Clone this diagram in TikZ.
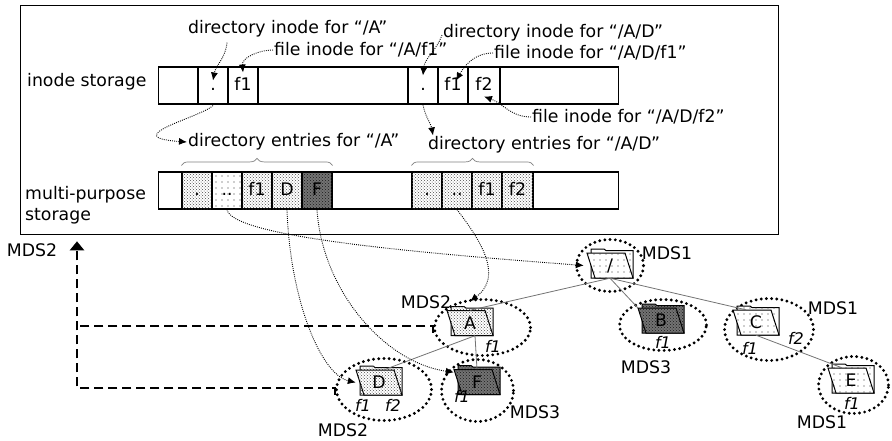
\documentclass[tikz,border=0pt]{standalone}
\usepackage{fontspec}
\setmainfont{DejaVu Sans}
\usetikzlibrary{arrows.meta,shapes,patterns,patterns.meta,decorations.pathreplacing}
\tikzstyle{store}=[draw,line width=1.2pt,minimum height=37pt,inner sep=0pt,anchor=west]
\tikzstyle{cell}=[draw,line width=1.2pt,minimum width=30pt,minimum height=37pt,inner sep=0pt,text height=12pt,text depth=3pt]
\tikzstyle{dense}=[fill=white,postaction={pattern=crosshatch dots,pattern color=black!70}]
\tikzstyle{sparse}=[fill=white,postaction={pattern={Dots[distance=6pt,radius=0.6pt]},pattern color=black!80}]
\tikzstyle{dark}=[fill=black!55,postaction={pattern=crosshatch dots,pattern color=black!90}]
\tikzstyle{note}=[inner sep=1pt,anchor=west]
\tikzstyle{ptr}=[draw,line width=0.9pt,dash pattern=on 0.9pt off 1.2pt,-{Latex[length=8pt,width=7pt]}]
\tikzstyle{ring}=[ellipse,draw,line width=3.2pt,dash pattern=on 0pt off 5.2pt,line cap=round,inner sep=0pt]
\tikzstyle{folder}=[minimum width=46pt,minimum height=25pt,inner sep=0pt]
\tikzstyle{branch}=[draw,black!55,line width=0.8pt]
\tikzstyle{leaf}=[inner sep=0pt,font=\fontsize{16}{18}\selectfont\itshape]
\tikzstyle{mds}=[inner sep=0pt]
\tikzstyle{migrate}=[draw,line width=2.4pt,dash pattern=on 9pt off 5pt]
\tikzstyle{entries}=[decorate,decoration={brace,amplitude=7pt},draw,gray,line width=0.7pt]
% folder icon: name, position, text, fill
\newcommand{\folder}[4]{%
  \begin{scope}[shift={#2}]
    \draw[line width=1pt,#4] (-19,-12.5) -- (-19,16.5) -- (-6,16.5) -- (-4,15) -- (23,15) -- (23,-12.5) -- cycle;
    \draw[line width=1pt,#4] (-23,12.5) -- (15,12.5) -- (23,-12.5) -- (-15,-12.5) -- cycle;
  \end{scope}
  \node[folder] (#1) at #2 {#3};}

\begin{document}
\begin{tikzpicture}[x=1pt,y=1pt,font=\fontsize{17.3}{21}\selectfont]
        \useasboundingbox (0,0) rectangle (892,-440);
        \node[draw,line width=1.3pt,minimum width=758pt,minimum height=229pt,anchor=north west,inner sep=0pt] (mdsbox) at (20,-5) {};
        % inode storage
        \node[note] (ilabel) at (26,-82) {inode storage};
        \node[store,minimum width=460pt] (istore) at (158,-85.5) {};
        \node[cell] (ia-dot) at (213,-85.5) {.};
        \node[cell] (ia-f1) at (243,-85.5) {f1};
        \node[cell] (id-dot) at (423,-85.5) {.};
        \node[cell] (id-f1) at (453,-85.5) {f1};
        \node[cell,minimum width=32pt] (id-f2) at (484,-85.5) {f2};
        % multi-purpose storage
        \node[note,align=left] (mlabel) at (24,-205) {multi-purpose\\storage};
        \node[store,minimum width=460pt] (mstore) at (158,-190.5) {};
        \node[cell,dense] (ma-dot) at (197,-190.5) {.};
        \node[cell,sparse] (ma-dd) at (227,-190.5) {..};
        \node[cell,dense] (ma-f1) at (257,-190.5) {f1};
        \node[cell,dense] (ma-D) at (287,-190.5) {D};
        \node[cell,dark] (ma-F) at (317,-190.5) {F};
        \node[cell,dense] (md-dot) at (427,-190.5) {.};
        \node[cell,dense] (md-dd) at (457,-190.5) {..};
        \node[cell,dense] (md-f1) at (487,-190.5) {f1};
        \node[cell,dense,minimum width=31pt] (md-f2) at (517.5,-190.5) {f2};
        \draw[entries] ([yshift=6pt]ma-dot.north west) -- ([yshift=6pt]ma-F.north east);
        \draw[entries] ([yshift=6pt]md-dot.north west) -- ([yshift=6pt]md-f2.north east);
        % notes
        \node[note] (dirA) at (187,-29) {directory inode for “/A”};
        \node[note] (fileAf1) at (273,-50) {file inode for “/A/f1”};
        \node[note] (dirAD) at (442,-33) {directory inode for “/A/D”};
        \node[note] (fileADf1) at (493,-53) {file inode for “/A/D/f1”};
        \node[note] (fileADf2) at (531,-117) {file inode for “/A/D/f2”};
        \node[note] (entA) at (187,-142) {directory entries for “/A”};
        \node[note] (entAD) at (427,-145) {directory entries for “/A/D”};
        % namespace tree
        \node[ring,minimum width=67pt,minimum height=52pt] (root-ring) at (610,-265.5) {};
        \node[ring,minimum width=96pt,minimum height=56pt] (A-ring) at (482.5,-327.5) {};
        \node[ring,minimum width=87pt,minimum height=51pt] (B-ring) at (663,-325) {};
        \node[ring,minimum width=89pt,minimum height=62pt] (C-ring) at (769,-329.5) {};
        \node[ring,minimum width=95pt,minimum height=62pt] (D-ring) at (384,-389.5) {};
        \node[ring,minimum width=70pt,minimum height=57pt] (E-ring) at (853.5,-385) {};
        \node[ring,minimum width=72pt,minimum height=62pt] (F-ring) at (477.5,-390.5) {};
        \folder{root}{(610,-265.5)}{/}{sparse}
        \folder{A}{(470,-323)}{A}{dense}
        \folder{B}{(661,-320.5)}{B}{dark}
        \folder{C}{(756,-322.5)}{C}{sparse}
        \folder{D}{(379,-382.5)}{D}{dense}
        \folder{E}{(851,-380.5)}{E}{sparse}
        \folder{F}{(477,-382)}{F}{dark}
        \draw[branch] (root.south) -- (A.north);
        \draw[branch] (root.south) -- (B.north west);
        \draw[branch] (root.south) -- ([xshift=-10pt]C.north);
        \draw[branch] (C.south) -- ([xshift=-9pt]E.north);
        \draw[branch] ([xshift=5pt]A.south) -- ([xshift=5pt]D.north);
        \draw[branch] ([xshift=5pt]A.south) -- (F.north);
        \node[leaf] (A-f1) at (493,-346) {f1};
        \node[leaf] (B-f1) at (663,-342) {f1};
        \node[leaf] (C-f1) at (750,-348) {f1};
        \node[leaf] (C-f2) at (796,-338) {f2};
        \node[leaf] (D-f1) at (363,-405) {f1};
        \node[leaf] (D-f2) at (393,-405) {f2};
        \node[leaf] (E-f1) at (852,-403) {f1};
        \node[leaf] (F-f1) at (462,-396) {f1};
        \node[mds] (root-mds) at (667,-253) {MDS1};
        \node[mds] (A-mds) at (426,-302) {MDS2};
        \node[mds] (B-mds) at (646,-367) {MDS3};
        \node[mds] (C-mds) at (833,-308) {MDS1};
        \node[mds] (D-mds) at (343,-430) {MDS2};
        \node[mds] (E-mds) at (822,-422) {MDS1};
        \node[mds] (F-mds) at (535,-412) {MDS3};
        \node[mds] (box-mds) at (32,-250) {MDS2};
        % pointers
        \draw[ptr] ([xshift=40pt,yshift=-4pt]dirA.south west) to[out=-95,in=80] ([yshift=5pt]ia-dot.center);
        \draw[ptr] (fileAf1.west) to[out=180,in=95] ([yshift=13pt]ia-f1.center);
        \draw[ptr] ([yshift=-2pt]dirAD.west) to[out=-110,in=85] ([yshift=10pt]id-dot.center);
        \draw[ptr] (fileADf1.west) to[out=180,in=60] ([xshift=3pt,yshift=5pt]id-f1.center);
        \draw[ptr] (fileADf2.west) to[out=180,in=-20] ([yshift=-11pt]id-f2.center);
        \draw[ptr] ([yshift=-1pt]ia-dot.south) .. controls +(-13,-12) and +(-70,5) .. (entA.west);
        \draw[ptr] (id-dot.south) to[out=-80,in=100] ([xshift=6pt]entAD.north west);
        \draw[ptr] (ma-dd.south) .. controls +(5,-25) and +(-200,15) .. ([xshift=-3pt]root.west);
        \draw[ptr] (ma-D.south) .. controls +(3,-90) and +(-35,8) .. (D.west);
        \draw[ptr] (ma-F.south) .. controls +(5,-80) and +(-70,10) .. ([yshift=-3pt]F.north west);
        \draw[ptr] (md-dd.south) .. controls +(23,-30) and +(34,25) .. ([yshift=9pt]A.north);
        % migration
        \coordinate (bend) at (77,-388);
        \coordinate (join) at (77,-326);
        \draw[migrate,-{Triangle[length=9pt,width=14pt]}] ([yshift=-5pt]D-ring.west) |- (bend) -- ([xshift=57pt,yshift=-6pt]mdsbox.south west);
        \draw[migrate] ([yshift=-5pt]A-ring.west) |- (join);
      \end{tikzpicture}
\end{document}
